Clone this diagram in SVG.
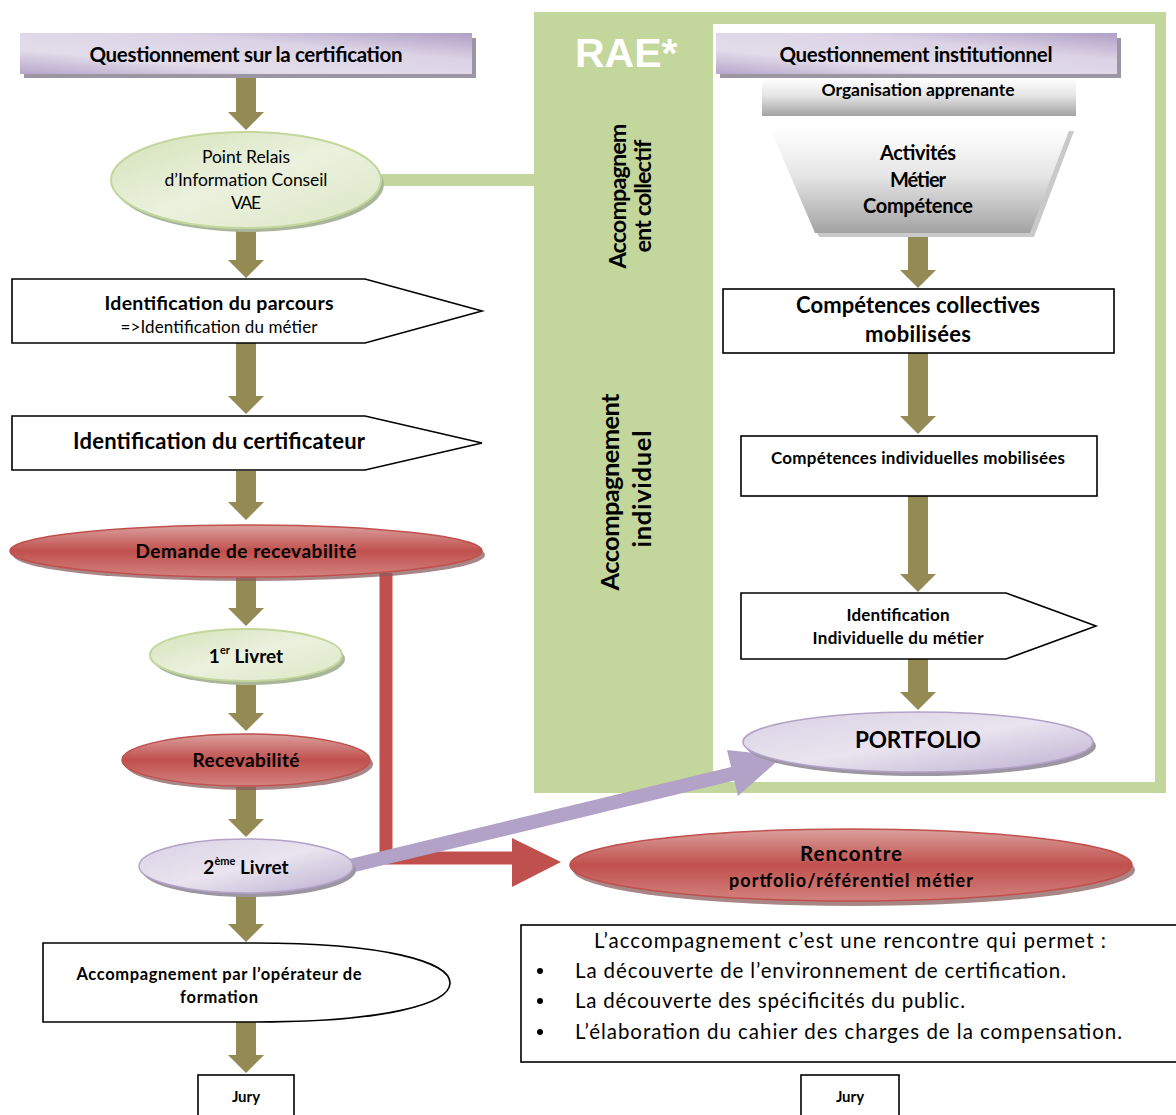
<svg xmlns="http://www.w3.org/2000/svg" width="1176" height="1115" viewBox="0 0 1176 1115">
<style>
.t{font-family:Lato,"Liberation Sans",sans-serif;fill:#000;text-anchor:middle}
.b{font-weight:bold}
.box{fill:#fff;stroke:#000;stroke-width:1.6}
.arr{fill:#948a54}
.red{fill:url(#gRed);stroke:#c0504d;stroke-width:1.5}
.redsh{fill:#8a5e5c;opacity:.75}
.pur{fill:url(#gPurE);stroke:#b3a2c7;stroke-width:1.5}
.sh{fill:#9c96a3}
</style>
<defs>
<linearGradient id="gBan" x1="0" y1="1" x2="1" y2="0">
<stop offset="0" stop-color="#b6a6cb"/><stop offset="0.3" stop-color="#e2dcea"/><stop offset="0.65" stop-color="#dcd4e6"/><stop offset="1" stop-color="#b09fc5"/>
</linearGradient>
<linearGradient id="gPurE" x1="0" y1="0" x2="1" y2="1">
<stop offset="0" stop-color="#d9d0e4"/><stop offset="0.5" stop-color="#e9e4ef"/><stop offset="1" stop-color="#bcaed0"/>
</linearGradient>
<linearGradient id="gRed" x1="0" y1="0" x2="0" y2="1">
<stop offset="0" stop-color="#dba09e"/><stop offset="0.5" stop-color="#c0504d"/><stop offset="1" stop-color="#d3827f"/>
</linearGradient>
<linearGradient id="gGreen" x1="0" y1="0" x2="1" y2="1">
<stop offset="0" stop-color="#d3e2b6"/><stop offset="0.5" stop-color="#ebf1de"/><stop offset="1" stop-color="#dbe7c4"/>
</linearGradient>
<linearGradient id="gGray" x1="0" y1="0" x2="0" y2="1">
<stop offset="0" stop-color="#ffffff"/><stop offset="0.45" stop-color="#e6e6e6"/><stop offset="1" stop-color="#a3a3a3"/>
</linearGradient>
</defs>

<!-- RAE panel -->
<g id="rae-panel">
<rect x="534" y="12" width="632" height="781" fill="#c3d69b"/>
<rect x="713" y="24" width="442" height="758" fill="#fff"/>
<text x="575" y="67" font-family="'Liberation Sans',Arial,sans-serif" font-weight="bold" font-size="41" fill="#fff">RAE*</text>
<text class="t b" font-size="23.5" transform="translate(626,196) rotate(-90)" textLength="145">Accompagnem</text>
<text class="t b" font-size="23.5" transform="translate(651,196) rotate(-90)" textLength="113">ent collectif</text>
<text class="t b" font-size="25.5" transform="translate(619,492) rotate(-90)" textLength="197">Accompagnement</text>
<text class="t b" font-size="25.5" transform="translate(651,489) rotate(-90)" textLength="117">individuel</text>
</g>

<!-- connectors -->
<g id="connectors">
<rect x="380" y="174" width="156" height="12" fill="#c3d69b"/>
<polygon class="arr" points="236,75 256,75 256,112 264,112 246,130 228,112 236,112"/>
<polygon class="arr" points="236,228 256,228 256,260 264,260 246,278 228,260 236,260"/>
<polygon class="arr" points="236,343 256,343 256,396 264,396 246,414 228,396 236,396"/>
<polygon class="arr" points="236,471 256,471 256,502 264,502 246,520 228,502 236,502"/>
<polygon class="arr" points="236,577 256,577 256,608 264,608 246,626 228,608 236,608"/>
<polygon class="arr" points="236,682 256,682 256,713 264,713 246,731 228,713 236,713"/>
<polygon class="arr" points="236,787 256,787 256,819 264,819 246,837 228,819 236,819"/>
<polygon class="arr" points="236,893 256,893 256,924 264,924 246,942 228,924 236,924"/>
<polygon class="arr" points="236,1022 256,1022 256,1055 264,1055 246,1073 228,1055 236,1055"/>
<polygon class="arr" points="908,236 928,236 928,270 936,270 918,288 900,270 908,270"/>
<polygon class="arr" points="908,353 928,353 928,416 936,416 918,434 900,416 908,416"/>
<polygon class="arr" points="908,496 928,496 928,574 936,574 918,592 900,574 908,574"/>
<polygon class="arr" points="908,659 928,659 928,692 936,692 918,710 900,692 908,692"/>
<!-- red connector -->
<path d="M386,573 V858 H514" fill="none" stroke="#c0504d" stroke-width="13"/>
<polygon points="512,838 561,862 512,887" fill="#c0504d"/>
<!-- purple connector -->
<path d="M350,866 L736,773" fill="none" stroke="#b3a2c7" stroke-width="14"/>
<polygon points="727,750 783,756 738,796" fill="#b3a2c7"/>
</g>

<!-- left column -->
<g id="q-certif">
<rect class="sh" x="24" y="38" width="452" height="40"/>
<rect x="20" y="33" width="452" height="41" fill="url(#gBan)"/>
<text class="t b" x="246" y="62" font-size="20.5" textLength="313">Questionnement sur la certification</text>
</g>
<g id="point-relais">
<ellipse cx="249" cy="184" rx="135" ry="48" fill="#a9b69a"/>
<ellipse cx="246" cy="180" rx="135" ry="48" fill="url(#gGreen)" stroke="#c3d69b" stroke-width="2"/>
<text class="t" x="246" y="163" font-size="17.5" textLength="88">Point Relais</text>
<text class="t" x="246" y="186" font-size="17.5" textLength="163">d’Information Conseil</text>
<text class="t" x="246" y="209" font-size="17.5" textLength="30">VAE</text>
</g>
<g id="id-parcours">
<path class="box" d="M12,279 H365 L482,311 L365,343 H12 Z"/>
<text class="t b" x="219" y="310" font-size="19.5" textLength="229">Identification du parcours</text>
<text class="t" x="219" y="333" font-size="17" textLength="197">=&gt;Identification du métier</text>
</g>
<g id="id-certificateur">
<path class="box" d="M12,416 H365 L482,443 L365,470 H12 Z"/>
<text class="t b" x="219" y="449" font-size="22" textLength="292">Identification du certificateur</text>
</g>
<g id="demande">
<ellipse class="redsh" cx="249" cy="555" rx="236" ry="26"/>
<ellipse class="red" cx="246" cy="551" rx="236" ry="26"/>
<text class="t b" x="246" y="558" font-size="19" textLength="221">Demande de recevabilité</text>
</g>
<g id="livret1">
<ellipse cx="249" cy="659" rx="96" ry="26" fill="#a9b69a"/>
<ellipse cx="246" cy="655" rx="96" ry="26" fill="url(#gGreen)" stroke="#c3d69b" stroke-width="2"/>
<text class="t b" x="246" y="663" font-size="19">1<tspan font-size="11" dy="-9">er</tspan><tspan dy="9"> Livret</tspan></text>
</g>
<g id="recevabilite">
<ellipse class="redsh" cx="249" cy="764" rx="124" ry="26"/>
<ellipse class="red" cx="246" cy="760" rx="124" ry="26"/>
<text class="t b" x="246" y="767" font-size="19" textLength="107">Recevabilité</text>
</g>
<g id="livret2">
<ellipse class="sh" cx="249" cy="870" rx="107" ry="27"/>
<ellipse class="pur" cx="246" cy="866" rx="107" ry="27"/>
<text class="t b" x="246" y="874" font-size="19">2<tspan font-size="11" dy="-9">ème</tspan><tspan dy="9"> Livret</tspan></text>
</g>
<g id="accompagnement-operateur">
<path class="box" d="M43,943 H255 C385,943 450,962 450,983 C450,1004 385,1022 255,1022 H43 Z"/>
<text class="t b" x="219" y="980" font-size="16.5" textLength="285">Accompagnement par l’opérateur de</text>
<text class="t b" x="219" y="1003" font-size="16.5" textLength="78">formation</text>
</g>
<g id="jury-left">
<rect class="box" x="198" y="1075" width="96" height="44"/>
<text class="t b" x="246" y="1102" font-size="15">Jury</text>
</g>

<!-- right column -->
<g id="q-instit">
<rect class="sh" x="720" y="38" width="401" height="40"/>
<rect x="716" y="33" width="401" height="41" fill="url(#gBan)"/>
<text class="t b" x="916" y="62" font-size="20.5" textLength="273">Questionnement institutionnel</text>
</g>
<g id="organisation">
<rect x="762" y="78" width="314" height="38" fill="url(#gGray)"/>
<text class="t b" x="918" y="96" font-size="17.5" textLength="193">Organisation apprenante</text>
</g>
<g id="funnel">
<polygon points="774,131 1074,131 1034,237 819,237" fill="#c9c9c9"/>
<polygon points="770,128 1070,128 1030,233 815,233" fill="url(#gGray)"/>
<text class="t b" x="918" y="160" font-size="20" textLength="76">Activités</text>
<text class="t b" x="918" y="187" font-size="20" textLength="56">Métier</text>
<text class="t b" x="918" y="213" font-size="20" textLength="110">Compétence</text>
</g>
<g id="comp-collectives">
<rect class="box" x="723" y="289" width="391" height="64"/>
<text class="t b" x="918" y="313" font-size="22" textLength="244">Compétences collectives</text>
<text class="t b" x="918" y="342" font-size="22" textLength="106">mobilisées</text>
</g>
<g id="comp-individuelles">
<rect class="box" x="741" y="436" width="356" height="60"/>
<text class="t b" x="918" y="464" font-size="17" textLength="294">Compétences individuelles mobilisées</text>
</g>
<g id="id-individuelle">
<path class="box" d="M741,593 H1006 L1096,626 L1006,659 H741 Z"/>
<text class="t b" x="898" y="621" font-size="17" textLength="103">Identification</text>
<text class="t b" x="898" y="644" font-size="17" textLength="171">Individuelle du métier</text>
</g>
<g id="portfolio">
<ellipse class="sh" cx="921" cy="746" rx="175" ry="30"/>
<ellipse class="pur" cx="918" cy="742" rx="175" ry="30"/>
<text class="t b" x="918" y="748" font-size="22.5" textLength="126">PORTFOLIO</text>
</g>
<g id="rencontre">
<ellipse class="redsh" cx="854" cy="870" rx="281" ry="36"/>
<ellipse class="red" cx="851" cy="865" rx="281" ry="36"/>
<text class="t b" x="851" y="861" font-size="20.5" textLength="102">Rencontre</text>
<text class="t b" x="851" y="887" font-size="18" textLength="244">portfolio/référentiel métier</text>
</g>
<g id="note">
<rect class="box" x="521" y="925" width="660" height="137"/>
<text class="t" x="850" y="948" font-size="20.5" textLength="512">L’accompagnement c’est une rencontre qui permet :</text>
<g font-family="Lato,'Liberation Sans',sans-serif" font-size="20.5">
<circle cx="540" cy="971" r="3"/><circle cx="540" cy="1001" r="3"/><circle cx="540" cy="1032" r="3"/>
<text x="575" y="978" textLength="491">La découverte de l’environnement de certification.</text>
<text x="575" y="1008" textLength="390">La découverte des spécificités du public.</text>
<text x="575" y="1039" textLength="547">L’élaboration du cahier des charges de la compensation.</text>
</g>
</g>
<g id="jury-right">
<rect class="box" x="801" y="1075" width="98" height="44"/>
<text class="t b" x="850" y="1102" font-size="15">Jury</text>
</g>
</svg>
